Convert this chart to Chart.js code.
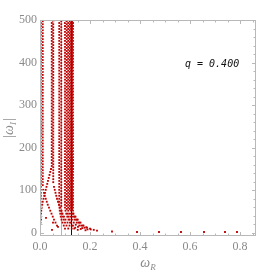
<!DOCTYPE html>
<html>
<head>
    <title>QNM branches q = 0.400</title>
    <script src="https://cdn.jsdelivr.net/npm/chart.js"></script>
    <style>
        body { margin: 0; background: #fff; }
        #chart { display: block; }
    </style>
</head>
<body>
    <canvas id="chart" width="277" height="273"></canvas>

    <script>
        // |omega_I| levels of the dotted vertical columns (two interleaved rows)
        const levelsA = [500, 493, 486, 479, 472, 465, 458, 451, 444, 437, 430, 423, 416, 409, 402,
            395, 388, 381, 374, 367, 360, 353, 346, 339, 332, 325, 318, 311, 304, 297, 290, 283,
            276, 269, 262, 255, 248, 241, 234, 227, 220, 213, 206, 199, 192, 185, 178, 171, 164,
            157, 150, 143, 136, 129, 122, 115, 108, 101, 94, 87, 80, 73, 66, 59, 52, 45];
        const levelsB = [497, 490, 483, 476, 469, 462, 455, 448, 441, 434, 427, 420, 413, 406, 399,
            392, 385, 378, 371, 364, 357, 350, 343, 336, 329, 322, 315, 308, 301, 294, 287, 280,
            273, 266, 259, 252, 245, 238, 231, 224, 217, 210, 203, 196, 189, 182, 175, 168, 161,
            154, 147, 140, 133, 126, 119, 112, 105, 98, 91, 84, 77, 70, 63, 56, 49];

        // omega_R of each column, which row of levels it uses, and the lowest level it reaches
        const columnX = [0.003, 0.011, 0.047, 0.053, 0.077, 0.085, 0.100, 0.107, 0.113, 0.119, 0.124, 0.128, 0.132];
        const columnRow = [0, 1, 0, 1, 0, 1, 0, 1, 0, 1, 0, 1, 0];
        const columnFloor = [80, 108, 157, 115, 66, 59, 59, 52, 52, 52, 52, 52, 45];

        // curved lower ends of each column, [omega_R, |omega_I|]
        const tails = [
            [[0.002, 73], [0.001, 66], [0.000, 59], [0.000, 52], [0.001, 38], [0.002, 24]],
            [[0.013, 101], [0.016, 94], [0.019, 87], [0.023, 80], [0.027, 73], [0.031, 66], [0.036, 59],
             [0.041, 52], [0.046, 45], [0.051, 38], [0.056, 31], [0.062, 24], [0.068, 17]],
            [[0.044, 150], [0.041, 143], [0.038, 136], [0.035, 129], [0.032, 122], [0.029, 115],
             [0.026, 108], [0.023, 101], [0.020, 94], [0.017, 87], [0.014, 80], [0.011, 73],
             [0.009, 66], [0.007, 59], [0.005, 52], [0.004, 45], [0.003, 38], [0.004, 31]],
            [[0.056, 108], [0.059, 101], [0.062, 94], [0.065, 87], [0.068, 80], [0.072, 73],
             [0.076, 66], [0.080, 59], [0.085, 52], [0.090, 45], [0.096, 38], [0.102, 31],
             [0.110, 24], [0.118, 17], [0.127, 10]],
            [[0.078, 59], [0.079, 52], [0.081, 45], [0.083, 38], [0.086, 31], [0.090, 24], [0.095, 17], [0.100, 10]],
            [[0.086, 52], [0.088, 45], [0.091, 38], [0.095, 31], [0.100, 24], [0.106, 17], [0.113, 10]],
            [[0.102, 52], [0.105, 45], [0.109, 38], [0.114, 31], [0.120, 24], [0.128, 17], [0.137, 10]],
            [[0.110, 45], [0.114, 38], [0.119, 31], [0.125, 24], [0.132, 17], [0.141, 12], [0.151, 7]],
            [[0.117, 45], [0.122, 38], [0.128, 31], [0.135, 24], [0.143, 19], [0.152, 14], [0.163, 9]],
            [[0.124, 45], [0.130, 38], [0.138, 31], [0.147, 24], [0.157, 17], [0.169, 11], [0.182, 6]],
            [[0.129, 45], [0.136, 38], [0.144, 31], [0.154, 24], [0.165, 17], [0.178, 12], [0.190, 8]],
            [[0.134, 45], [0.142, 38], [0.151, 31], [0.162, 24], [0.174, 17], [0.188, 12], [0.203, 8]],
            [[0.139, 38], [0.148, 31], [0.158, 24], [0.171, 17], [0.185, 13], [0.200, 10], [0.215, 7]]
        ];

        // isolated points near the axis
        const strayX = [0.000, 0.024, 0.052, 0.072, 0.048, 0.228, 0.288, 0.388, 0.476, 0.564, 0.656, 0.740, 0.788];
        const strayY = [7, 35, 24, 14, 7, 5, 3, 2, 2, 2, 2, 2, 2];

        const xTicks = [0, 0.2, 0.4, 0.6, 0.8];
        const xMinor = [0.05, 0.1, 0.15, 0.25, 0.3, 0.35, 0.45, 0.5, 0.55, 0.65, 0.7, 0.75, 0.85];
        const yTicks = [0, 100, 200, 300, 400, 500];
        const yMinor = [20, 40, 60, 80, 120, 140, 160, 180, 220, 240, 260, 280, 320, 340, 360, 380, 420, 440, 460, 480];

        const refLines = [0.084, 0.124];
        const qLabel = 'q = 0.400';

        const points = [];
        columnX.forEach(function (x, i) {
            const row = columnRow[i] === 0 ? levelsA : levelsB;
            row.forEach(function (y) {
                if (y >= columnFloor[i]) points.push({ x: x, y: y });
            });
            tails[i].forEach(function (p) { points.push({ x: p[0], y: p[1] }); });
        });
        strayX.forEach(function (x, i) { points.push({ x: x, y: strayY[i] }); });

        const frameColor = '#b8b8b8';
        const labelColor = '#8a8a8a';

        const framePlugin = {
            id: 'frame',
            beforeDatasetsDraw(chart) {
                const { ctx, chartArea: a, scales } = chart;
                ctx.save();
                ctx.lineWidth = 1;
                refLines.forEach(function (v, i) {
                    const px = Math.round(scales.x.getPixelForValue(v)) + 0.5;
                    ctx.strokeStyle = i === 0 ? '#b4b4b4' : '#111';
                    ctx.beginPath();
                    ctx.moveTo(px, a.top);
                    ctx.lineTo(px, a.bottom);
                    ctx.stroke();
                });
                ctx.restore();
            },
            afterDraw(chart) {
                const { ctx, chartArea: a, scales } = chart;
                ctx.save();
                ctx.strokeStyle = frameColor;
                ctx.lineWidth = 1;
                ctx.strokeRect(a.left + 0.5, a.top + 0.5, a.right - a.left - 1, a.bottom - a.top - 1);

                ctx.beginPath();
                function xTick(v, len) {
                    const px = Math.round(scales.x.getPixelForValue(v)) + 0.5;
                    ctx.moveTo(px, a.bottom); ctx.lineTo(px, a.bottom - len);
                    ctx.moveTo(px, a.top); ctx.lineTo(px, a.top + len);
                }
                function yTick(v, len) {
                    const py = Math.round(scales.y.getPixelForValue(v)) + 0.5;
                    ctx.moveTo(a.left, py); ctx.lineTo(a.left + len, py);
                    ctx.moveTo(a.right, py); ctx.lineTo(a.right - len, py);
                }
                xTicks.forEach(function (v) { xTick(v, 4); });
                xMinor.forEach(function (v) { xTick(v, 2.5); });
                yTicks.forEach(function (v) { yTick(v, 4); });
                yMinor.forEach(function (v) { yTick(v, 2.5); });
                ctx.stroke();

                // axis titles with subscripts
                ctx.fillStyle = labelColor;
                ctx.textBaseline = 'alphabetic';
                const cx = (a.left + a.right) / 2;
                ctx.font = 'italic 14px "Liberation Serif"';
                const wOmega = ctx.measureText('\u03c9').width;
                ctx.font = 'italic 9px "Liberation Serif"';
                const wR = ctx.measureText('R').width;
                let x0 = cx - (wOmega + wR) / 2;
                ctx.textAlign = 'left';
                ctx.font = 'italic 14px "Liberation Serif"';
                ctx.fillText('\u03c9', x0, 267);
                ctx.font = 'italic 9px "Liberation Serif"';
                ctx.fillText('R', x0 + wOmega, 270);

                ctx.save();
                ctx.translate(13, (a.top + a.bottom) / 2);
                ctx.rotate(-Math.PI / 2);
                ctx.font = '14px "Liberation Serif"';
                const wBar = ctx.measureText('|').width;
                ctx.font = 'italic 14px "Liberation Serif"';
                const wO = ctx.measureText('\u03c9').width;
                ctx.font = 'italic 9px "Liberation Serif"';
                const wI = ctx.measureText('I').width;
                const total = wBar * 2 + wO + wI + 1;
                let t = -total / 2;
                ctx.font = '14px "Liberation Serif"';
                ctx.fillText('|', t, 0); t += wBar;
                ctx.font = 'italic 14px "Liberation Serif"';
                ctx.fillText('\u03c9', t, 0); t += wO;
                ctx.font = 'italic 9px "Liberation Serif"';
                ctx.fillText('I', t, 3); t += wI + 1;
                ctx.font = '14px "Liberation Serif"';
                ctx.fillText('|', t, 0);
                ctx.restore();

                // parameter label
                ctx.fillStyle = '#111';
                ctx.font = 'italic 10px "DejaVu Sans Mono"';
                ctx.textAlign = 'left';
                ctx.fillText(qLabel, 185, 67);
                ctx.restore();
            }
        };

        document.addEventListener('DOMContentLoaded', function () {
            const ctx = document.getElementById('chart').getContext('2d');
            new Chart(ctx, {
                type: 'scatter',
                data: {
                    datasets: [{
                        data: points,
                        backgroundColor: 'rgb(190, 0, 0)',
                        borderWidth: 0,
                        pointStyle: 'rect',
                        pointRadius: 1.3,
                        pointHoverRadius: 1.3
                    }]
                },
                options: {
                    responsive: false,
                    animation: false,
                    devicePixelRatio: 1,
                    layout: { padding: { top: 20, right: 21, left: 0, bottom: 0 } },
                    plugins: { legend: { display: false }, tooltip: { enabled: false } },
                    scales: {
                        x: {
                            type: 'linear',
                            min: 0,
                            max: 0.864,
                            grid: { display: false, drawTicks: false },
                            border: { display: false },
                            ticks: {
                                padding: 4,
                                color: labelColor,
                                font: { family: 'Liberation Serif', size: 12 },
                                callback: function (v) { return v.toFixed(1); }
                            },
                            afterBuildTicks: function (s) { s.ticks = xTicks.map(function (v) { return { value: v }; }); },
                            afterFit: function (s) {
                                s.height = 37;
                                s.paddingLeft = 0; s.paddingRight = 0;
                            }
                        },
                        y: {
                            type: 'linear',
                            min: -7.5,
                            max: 500,
                            grid: { display: false, drawTicks: false },
                            border: { display: false },
                            ticks: {
                                padding: 3,
                                color: labelColor,
                                font: { family: 'Liberation Serif', size: 12 }
                            },
                            afterBuildTicks: function (s) { s.ticks = yTicks.map(function (v) { return { value: v }; }); },
                            afterFit: function (s) {
                                s.width = 40;
                                s.paddingTop = 0; s.paddingBottom = 0;
                            }
                        }
                    }
                },
                plugins: [framePlugin]
            });
        });
    </script>
</body>
</html>
